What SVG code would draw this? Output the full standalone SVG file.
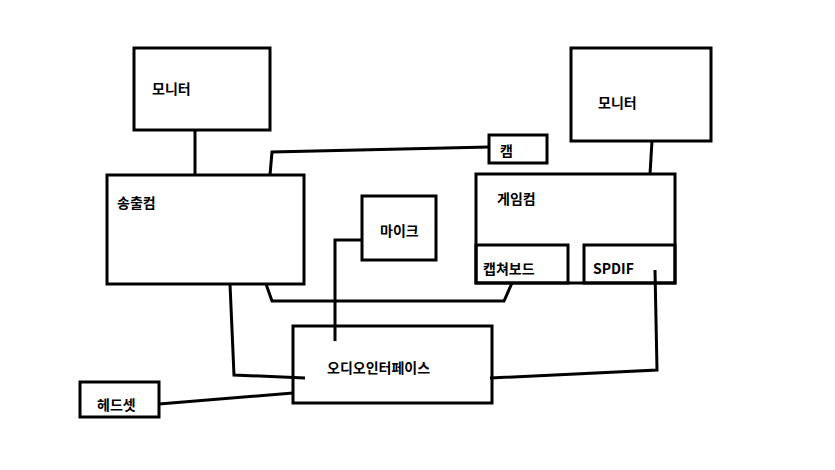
<svg xmlns="http://www.w3.org/2000/svg" width="835" height="470" viewBox="0 0 835 470">
<style>
rect{fill:none;stroke:#000;stroke-width:3}
.c polyline{fill:none;stroke:#000;stroke-width:3}
text{font-family:"Noto Sans CJK KR","Noto Sans",sans-serif;font-size:14px;font-weight:bold;fill:#000}
</style>
<rect x="0" y="0" width="835" height="470" style="fill:#fff;stroke:none"/>
<g class="c">
<polyline points="195,130 195,175"/>
<polyline points="270,175 272,152 489,147"/>
<polyline points="652,141 650,174"/>
<polyline points="266,284 272,301 504,301 512,283"/>
<polyline points="362,240 335,240 335,341"/>
<polyline points="230,284 234,375 305,378"/>
<polyline points="159,404 293,393"/>
<polyline points="655,270 657,370 490,378"/>
</g>
<g id="monitor1"><rect x="134" y="48" width="136" height="82"/><text x="152" y="94">모니터</text></g>
<g id="monitor2"><rect x="571" y="48" width="140" height="93"/><text x="598" y="108">모니터</text></g>
<g id="pc1"><rect x="107" y="175" width="197" height="109"/><text x="117" y="208">송출컴</text></g>
<g id="cam"><rect x="489" y="135" width="58" height="28"/><text x="500" y="156">캠</text></g>
<g id="mic"><rect x="362" y="196" width="74" height="64"/><text x="380" y="236">마이크</text></g>
<g id="pc2"><rect x="476" y="174" width="199" height="109"/><text x="497" y="204">게임컴</text></g>
<g id="capture"><rect x="476" y="245" width="92" height="38"/><text x="483" y="274">캡쳐보드</text></g>
<g id="spdif"><rect x="584" y="245" width="91" height="38"/><text x="593" y="274">SPDIF</text></g>
<g id="audio"><rect x="293" y="326" width="199" height="77"/><text x="327" y="373">오디오인터페이스</text></g>
<g id="headset"><rect x="80" y="382" width="79" height="35"/><text x="97" y="410">헤드셋</text></g>
</svg>
